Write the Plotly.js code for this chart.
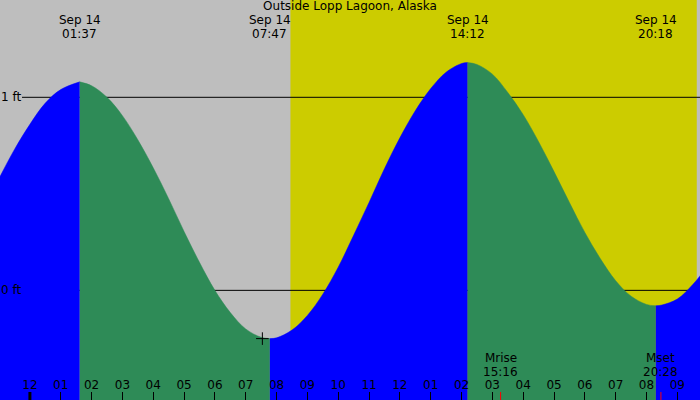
<!DOCTYPE html>
<html>
<head>
<meta charset="utf-8">
<script src="https://cdn.plot.ly/plotly-3.0.1.min.js"></script>
<style>
  html, body { margin: 0; padding: 0; background: #bebebe; }
</style>
</head>
<body>
<div id="plot" style="width:700px;height:400px;"></div>
<script>
// hours after midnight Sep 14, heights in feet (every half hour + each high/low)
var curveHours = [-1, -0.5, 0, 0.5, 1, 1.617,
                  2, 2.5, 3, 3.5, 4, 4.5, 5, 5.5, 6, 6.5, 7, 7.5, 7.783,
                  8, 8.5, 9, 9.5, 10, 10.5, 11, 11.5, 12, 12.5, 13, 13.5, 14, 14.2,
                  14.5, 15, 15.5, 16, 16.5, 17, 17.5, 18, 18.5, 19, 19.5, 20, 20.3,
                  20.5, 21, 21.5, 22]
var curveFeet = [0.58, 0.73, 0.86, 0.97, 1.04, 1.08,
                 1.06, 1.00, 0.905, 0.78, 0.635, 0.475, 0.305, 0.145, 0.00, -0.115, -0.20, -0.243, -0.25,
                 -0.246, -0.206, -0.13, -0.02, 0.12, 0.285, 0.455, 0.63, 0.79, 0.93, 1.045, 1.13, 1.175, 1.18,
                 1.17, 1.12, 1.025, 0.91, 0.77, 0.615, 0.455, 0.30, 0.165, 0.05, -0.03, -0.073, -0.08,
                 -0.076, -0.045, 0.03, 0.13]

var hiloHours = [1.617, 7.783, 14.2, 20.3]
var hiloDate = ['Sep 14', 'Sep 14', 'Sep 14', 'Sep 14']
var hiloClock = ['01:37', '07:47', '14:12', '20:18']

var moonHours = [15.267, 20.467]
var moonName = ['Mrise', 'Mset']
var moonClock = ['15:16', '20:28']

var sunHours = [8.45, 21.63]   // sunrise, sunset

var hourTicks = [-1, 0, 1, 2, 3, 4, 5, 6, 7, 8, 9, 10, 11, 12, 13, 14, 15, 16, 17, 18, 19, 20, 21]
var hourLabels = ['11', '12', '01', '02', '03', '04', '05', '06', '07', '08', '09', '10',
                  '11', '12', '01', '02', '03', '04', '05', '06', '07', '08', '09']

var levelFeet = [1, 0]
var levelLabels = ['1 ft', '0 ft']

var plusHour = [7.54]
var plusFeet = [-0.25]

const X_RANGE = [-0.97, 21.735]
const Y_RANGE = [-0.568, 1.504]
const FONT = 'DejaVu Sans'

function draw()
{
    var data = []

    // one filled piece per rise / fall, cut at every high and low
    var seg = {x: [], y: []}
    for (var i = 0; i < curveHours.length; i++)
    {
        seg.x.push(curveHours[i])
        seg.y.push(curveFeet[i])
        var turn = hiloHours.indexOf(curveHours[i]) >= 0
        if ((turn && seg.x.length > 1) || i == curveHours.length - 1)
        {
            var rising = seg.y[seg.y.length - 1] > seg.y[0]
            var color = rising ? '#0000ff' : '#2e8b57'
            data.push({
                x: [seg.x[0], seg.x[seg.x.length - 1]],
                y: [Y_RANGE[0], Y_RANGE[0]],
                mode: 'lines', line: {width: 0}, hoverinfo: 'skip'
            })
            data.push({
                x: seg.x, y: seg.y,
                mode: 'lines',
                line: {shape: 'spline', smoothing: 1, width: 0.5, color: color},
                fill: 'tonexty', fillcolor: color, hoverinfo: 'skip'
            })
            seg = {x: [curveHours[i]], y: [curveFeet[i]]}
        }
    }

    data.push({
        x: plusHour, y: plusFeet, mode: 'markers',
        marker: {symbol: 'cross-thin', size: 9, line: {width: 1, color: 'black'}},
        hoverinfo: 'skip'
    })

    var shapes = [{
        type: 'rect', layer: 'below', xref: 'x', yref: 'paper',
        x0: sunHours[0], x1: sunHours[1], y0: 0, y1: 1,
        fillcolor: '#cccc00', line: {width: 0}
    }]
    levelFeet.forEach(function (v) {
        shapes.push({
            type: 'line', layer: 'below', xref: 'paper', yref: 'y',
            x0: 22 / 700, x1: 1, y0: v, y1: v,
            line: {color: 'black', width: 1}
        })
    })
    // midnight tick is heavier
    shapes.push({
        type: 'line', xref: 'x', yref: 'paper', x0: 0, x1: 0, y0: 0, y1: 8 / 400,
        line: {color: 'black', width: 3}
    })
    moonHours.forEach(function (h) {
        shapes.push({
            type: 'line', xref: 'x', yref: 'paper', x0: h, x1: h, y0: 0, y1: 8 / 400,
            line: {color: 'red', width: 1}
        })
    })

    var txt = {family: FONT, size: 12, color: 'black'}
    var note = {showarrow: false, font: txt, borderpad: 0, borderwidth: 0}
    var annotations = []
    levelFeet.forEach(function (v, k) {
        annotations.push(Object.assign({
            text: levelLabels[k], xref: 'paper', x: 0, xanchor: 'left', xshift: 1,
            yref: 'y', y: v, yanchor: 'middle'
        }, note))
    })
    hiloHours.forEach(function (h, k) {
        annotations.push(Object.assign({
            text: hiloDate[k], xref: 'x', x: h, yref: 'paper', y: 1, yanchor: 'middle', yshift: -20
        }, note))
        annotations.push(Object.assign({
            text: hiloClock[k], xref: 'x', x: h, yref: 'paper', y: 1, yanchor: 'middle', yshift: -34
        }, note))
    })
    moonHours.forEach(function (h, k) {
        annotations.push(Object.assign({
            text: moonName[k], xref: 'x', x: h, yref: 'paper', y: 0, yanchor: 'middle', yshift: 42.5
        }, note))
        annotations.push(Object.assign({
            text: moonClock[k], xref: 'x', x: h, yref: 'paper', y: 0, yanchor: 'middle', yshift: 28.5
        }, note))
    })

    var layout = {
        width: 700, height: 400,
        margin: {l: 0, r: 0, t: 0, b: 0},
        paper_bgcolor: '#bebebe', plot_bgcolor: '#bebebe',
        showlegend: false,
        title: {
            text: 'Outside Lopp Lagoon, Alaska', font: txt,
            x: 0.5, xanchor: 'center', xref: 'container',
            y: 1 - 6 / 400, yanchor: 'middle', yref: 'container'
        },
        xaxis: {
            range: X_RANGE, showgrid: false, zeroline: false, showline: false,
            tickmode: 'array', tickvals: hourTicks, ticktext: hourLabels,
            ticks: 'inside', ticklen: 8, tickwidth: 1, tickcolor: 'black',
            ticklabelposition: 'inside', ticklabeloverflow: 'allow',
            tickfont: {family: FONT, size: 12, color: 'black'}
        },
        yaxis: {range: Y_RANGE, visible: false},
        shapes: shapes,
        annotations: annotations
    }

    Plotly.newPlot('plot', data, layout, {staticPlot: true})
}

draw()
</script>
</body>
</html>
